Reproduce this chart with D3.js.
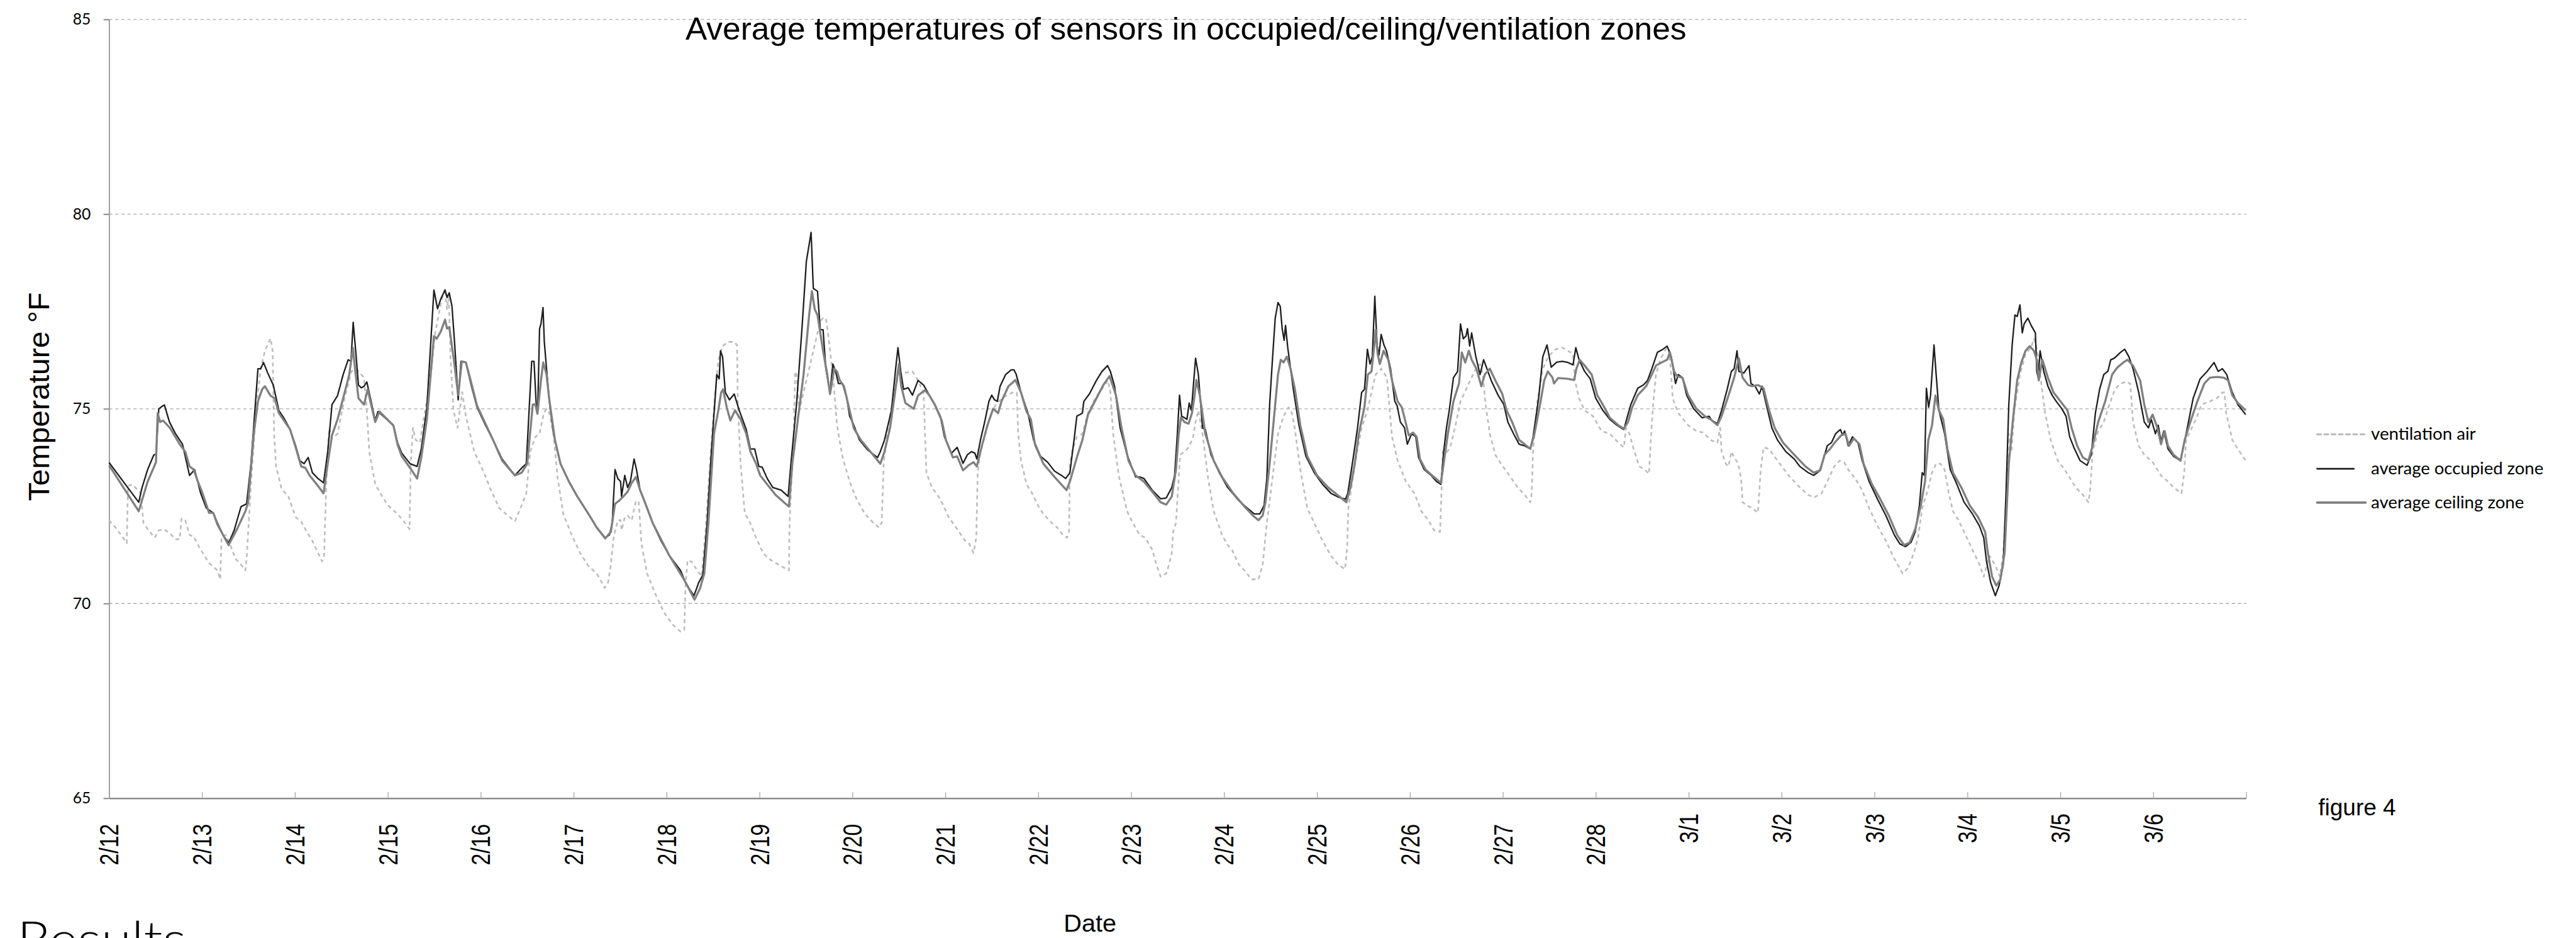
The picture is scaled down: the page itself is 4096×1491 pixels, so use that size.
<!DOCTYPE html>
<html><head><meta charset="utf-8">
<script src="https://cdnjs.cloudflare.com/ajax/libs/d3/7.8.5/d3.min.js"></script>
<style>html,body{margin:0;padding:0;background:#fff;overflow:hidden}</style>
</head><body>
<svg id="chart" width="4096" height="1491" viewBox="0 0 4644 1691"></svg>
<script>
// ---------------- data ----------------
const startDate = Date.UTC(2011, 1, 12);   // 2/12, day 0
const dayCount = 23;                        // axis runs to 3/7 0:00
const xTickLabels = ["2/12","2/13","2/14","2/15","2/16","2/17","2/18","2/19","2/20","2/21","2/22","2/23","2/24","2/25","2/26","2/27","2/28","3/1","3/2","3/3","3/4","3/5","3/6"];
const yTicks = [65, 70, 75, 80, 85];
const seriesNames = ["ventilation air", "average occupied zone", "average ceiling zone"];
const titleText = "Average temperatures of sensors in occupied/ceiling/ventilation zones";
const yTitle = "Temperature °F";
const xTitle = "Date";

// [day offset from 2/12 0:00, °F]
const occupiedZone = [[0.000,73.62],[0.319,72.60],[0.355,72.98],[0.415,73.44],[0.480,73.81],[0.505,73.84],[0.535,75.00],[0.580,75.08],[0.595,75.10],[0.650,74.66],[0.715,74.36],[0.790,74.09],[0.866,73.29],[0.920,73.44],[0.986,72.83],[1.046,72.45],[1.120,72.33],[1.166,72.07],[1.226,71.76],[1.286,71.55],[1.346,71.88],[1.420,72.49],[1.480,72.56],[1.527,73.59],[1.602,76.03],[1.632,76.03],[1.662,76.19],[1.707,75.92],[1.767,75.61],[1.827,74.96],[1.887,74.74],[1.948,74.47],[2.008,74.05],[2.053,73.67],[2.098,73.59],[2.143,73.75],[2.188,73.36],[2.248,73.21],[2.308,73.10],[2.353,73.90],[2.399,75.11],[2.459,75.34],[2.519,75.88],[2.573,76.26],[2.603,76.22],[2.627,77.22],[2.654,76.49],[2.684,75.61],[2.714,75.54],[2.744,75.58],[2.774,75.69],[2.820,75.19],[2.864,74.70],[2.894,74.93],[2.970,74.77],[3.060,74.58],[3.105,74.12],[3.150,73.86],[3.240,73.59],[3.315,73.52],[3.360,73.97],[3.420,75.04],[3.496,78.05],[3.535,77.57],[3.571,77.83],[3.616,78.05],[3.637,77.86],[3.661,77.98],[3.690,77.64],[3.720,76.64],[3.757,75.23],[3.787,76.22],[3.840,76.19],[3.900,75.58],[3.960,75.04],[4.050,74.58],[4.140,74.16],[4.230,73.71],[4.367,73.29],[4.440,73.48],[4.490,73.59],[4.548,76.22],[4.573,76.22],[4.597,75.11],[4.612,74.89],[4.633,77.06],[4.648,77.18],[4.670,77.60],[4.684,76.72],[4.708,76.03],[4.738,75.19],[4.783,74.36],[4.858,73.59],[4.949,73.13],[5.039,72.75],[5.159,72.30],[5.249,71.95],[5.340,71.69],[5.385,71.76],[5.415,72.07],[5.445,73.44],[5.475,73.21],[5.505,73.13],[5.515,72.75],[5.550,73.29],[5.580,72.98],[5.610,73.13],[5.650,73.71],[5.676,73.44],[5.715,72.91],[5.760,72.64],[5.850,72.07],[5.940,71.61],[6.030,71.23],[6.150,70.85],[6.196,70.58],[6.241,70.39],[6.295,70.20],[6.346,70.54],[6.390,70.73],[6.436,72.07],[6.480,73.82],[6.540,75.88],[6.566,75.77],[6.580,76.49],[6.602,76.34],[6.632,75.42],[6.677,75.23],[6.728,75.38],[6.782,74.96],[6.857,74.47],[6.902,73.97],[6.948,73.97],[6.993,73.52],[7.029,73.50],[7.083,73.21],[7.143,72.98],[7.233,72.91],[7.308,72.75],[7.338,73.59],[7.398,75.11],[7.458,77.10],[7.504,78.78],[7.555,79.53],[7.579,78.09],[7.624,78.02],[7.654,77.03],[7.684,77.03],[7.714,76.03],[7.759,75.42],[7.789,76.15],[7.819,75.96],[7.849,75.65],[7.894,75.65],[7.940,75.27],[7.970,74.81],[8.015,74.58],[8.075,74.20],[8.165,73.94],[8.270,73.75],[8.300,73.90],[8.345,74.20],[8.420,74.96],[8.465,76.03],[8.490,76.57],[8.520,75.96],[8.550,75.50],[8.600,75.54],[8.646,75.35],[8.706,75.73],[8.766,75.61],[8.811,75.42],[8.886,75.11],[8.946,74.81],[8.990,74.28],[9.066,73.86],[9.127,74.01],[9.190,73.60],[9.237,73.82],[9.280,73.90],[9.318,73.86],[9.339,73.71],[9.378,74.20],[9.423,74.66],[9.469,75.19],[9.499,75.35],[9.529,75.23],[9.559,75.19],[9.589,75.58],[9.649,75.88],[9.709,76.00],[9.739,76.00],[9.763,75.88],[9.814,75.42],[9.889,74.89],[9.949,74.20],[10.025,73.78],[10.100,73.63],[10.175,73.40],[10.250,73.29],[10.295,73.21],[10.340,73.36],[10.385,74.20],[10.415,74.81],[10.475,74.89],[10.490,75.19],[10.550,75.38],[10.626,75.73],[10.686,75.96],[10.746,76.11],[10.776,75.96],[10.821,75.58],[10.881,74.51],[10.956,73.82],[11.047,73.25],[11.092,73.25],[11.137,73.21],[11.227,72.91],[11.317,72.69],[11.377,72.71],[11.437,72.98],[11.467,73.29],[11.497,74.36],[11.520,75.35],[11.543,74.81],[11.573,74.77],[11.600,74.73],[11.624,75.15],[11.648,74.96],[11.693,76.30],[11.723,75.88],[11.768,74.51],[11.798,74.47],[11.858,73.82],[11.948,73.36],[12.038,72.98],[12.159,72.64],[12.249,72.45],[12.324,72.30],[12.384,72.30],[12.430,72.52],[12.460,73.21],[12.490,75.11],[12.520,76.26],[12.550,77.33],[12.580,77.73],[12.604,77.63],[12.625,77.06],[12.646,76.76],[12.661,77.14],[12.685,76.57],[12.745,75.50],[12.805,74.58],[12.880,73.78],[12.970,73.36],[13.060,73.06],[13.150,72.83],[13.240,72.72],[13.307,72.68],[13.331,72.83],[13.390,73.75],[13.436,74.51],[13.480,75.42],[13.511,75.50],[13.542,76.53],[13.570,76.15],[13.595,76.34],[13.622,77.89],[13.646,76.64],[13.667,76.38],[13.690,76.91],[13.720,76.64],[13.747,76.49],[13.792,76.03],[13.837,75.19],[13.862,75.08],[13.897,74.66],[13.942,74.51],[13.972,74.09],[14.018,74.36],[14.063,74.28],[14.093,73.75],[14.153,73.44],[14.228,73.29],[14.288,73.13],[14.333,73.06],[14.363,73.90],[14.393,74.51],[14.423,74.96],[14.468,75.80],[14.513,75.96],[14.544,77.18],[14.574,76.80],[14.604,76.87],[14.619,77.06],[14.643,76.61],[14.664,76.95],[14.709,76.34],[14.754,75.88],[14.793,76.26],[14.829,76.03],[14.874,75.73],[14.949,75.35],[15.010,75.11],[15.054,74.66],[15.115,74.36],[15.175,74.09],[15.235,74.05],[15.295,73.97],[15.325,74.28],[15.385,75.27],[15.430,76.34],[15.475,76.64],[15.520,76.07],[15.580,76.20],[15.640,76.22],[15.700,76.19],[15.755,76.13],[15.785,76.57],[15.820,76.26],[15.880,75.96],[15.940,75.77],[16.000,75.27],[16.076,74.96],[16.151,74.73],[16.227,74.58],[16.272,74.51],[16.302,74.47],[16.332,74.73],[16.377,75.11],[16.452,75.53],[16.512,75.61],[16.557,75.73],[16.603,76.03],[16.663,76.45],[16.723,76.53],[16.768,76.61],[16.813,76.34],[16.858,75.65],[16.888,75.88],[16.933,75.80],[16.978,75.35],[17.053,75.00],[17.144,74.77],[17.219,74.81],[17.249,74.70],[17.309,74.62],[17.354,74.96],[17.414,75.50],[17.459,75.96],[17.489,76.03],[17.520,76.49],[17.540,75.96],[17.594,75.92],[17.649,76.11],[17.670,75.65],[17.715,75.58],[17.760,75.38],[17.790,75.58],[17.835,75.11],[17.895,74.51],[17.955,74.20],[18.045,73.90],[18.136,73.71],[18.196,73.52],[18.286,73.36],[18.346,73.29],[18.406,73.40],[18.446,73.67],[18.491,74.05],[18.536,74.13],[18.581,74.36],[18.633,74.47],[18.657,74.32],[18.678,74.43],[18.717,74.05],[18.762,74.28],[18.822,74.13],[18.867,73.67],[18.942,73.13],[19.032,72.68],[19.122,72.26],[19.213,71.76],[19.273,71.53],[19.333,71.46],[19.393,71.57],[19.438,71.84],[19.483,72.52],[19.513,73.36],[19.537,73.29],[19.558,75.53],[19.582,75.04],[19.603,75.35],[19.640,76.64],[19.663,75.88],[19.693,74.96],[19.754,74.36],[19.814,73.44],[19.874,73.13],[19.964,72.60],[20.054,72.30],[20.129,71.99],[20.175,71.69],[20.205,71.08],[20.250,70.54],[20.300,70.20],[20.340,70.46],[20.385,71.00],[20.415,72.83],[20.445,75.11],[20.481,76.64],[20.511,77.41],[20.535,77.37],[20.565,77.67],[20.590,76.95],[20.610,77.18],[20.650,77.33],[20.686,77.14],[20.731,76.95],[20.746,75.96],[20.761,75.80],[20.782,76.49],[20.821,75.96],[20.866,75.58],[20.911,75.35],[20.956,75.19],[21.016,75.00],[21.061,74.81],[21.100,74.28],[21.152,73.97],[21.212,73.67],[21.287,73.55],[21.332,73.82],[21.377,74.89],[21.422,75.50],[21.467,75.88],[21.512,75.97],[21.542,76.26],[21.580,76.30],[21.647,76.45],[21.692,76.53],[21.737,76.34],[21.782,76.03],[21.843,75.42],[21.903,74.66],[21.948,74.51],[21.978,74.73],[22.023,74.36],[22.053,74.58],[22.083,74.16],[22.113,74.43],[22.158,73.97],[22.218,73.78],[22.293,73.67],[22.353,74.36],[22.429,75.27],[22.504,75.77],[22.579,75.96],[22.654,76.19],[22.699,75.96],[22.744,76.03],[22.790,75.88],[22.850,75.42],[22.910,75.11],[22.994,74.85]];

const ceilingZone = [[0.000,73.55],[0.319,72.37],[0.415,73.13],[0.505,73.63],[0.523,74.89],[0.550,74.66],[0.580,74.70],[0.655,74.51],[0.760,74.09],[0.820,73.90],[0.866,73.52],[0.910,73.44],[0.956,73.13],[1.000,72.87],[1.076,72.33],[1.121,72.33],[1.166,72.03],[1.286,71.50],[1.377,71.91],[1.467,72.37],[1.497,72.60],[1.557,74.36],[1.602,75.19],[1.647,75.50],[1.677,75.58],[1.737,75.34],[1.782,75.27],[1.827,74.89],[1.948,74.47],[2.008,74.01],[2.068,73.52],[2.113,73.48],[2.158,73.29],[2.248,73.02],[2.308,72.83],[2.353,73.59],[2.399,74.32],[2.459,74.73],[2.519,75.27],[2.585,75.88],[2.624,76.57],[2.654,75.88],[2.684,75.27],[2.744,75.11],[2.783,75.50],[2.820,75.11],[2.864,74.66],[2.910,74.93],[3.060,74.57],[3.105,74.08],[3.150,73.78],[3.240,73.48],[3.315,73.21],[3.360,73.75],[3.420,74.73],[3.496,76.87],[3.526,76.80],[3.571,76.99],[3.616,77.29],[3.637,77.06],[3.661,77.10],[3.706,76.34],[3.757,75.35],[3.796,76.22],[3.840,76.19],[3.900,75.65],[3.960,75.08],[4.050,74.62],[4.140,74.16],[4.230,73.67],[4.367,73.29],[4.440,73.36],[4.500,73.59],[4.560,75.11],[4.588,75.11],[4.610,74.87],[4.648,75.73],[4.672,76.19],[4.708,75.88],[4.738,75.23],[4.798,74.20],[4.858,73.59],[4.949,73.13],[5.039,72.75],[5.159,72.30],[5.249,71.95],[5.340,71.67],[5.400,71.84],[5.445,72.56],[5.490,72.64],[5.535,72.75],[5.580,72.87],[5.625,73.10],[5.670,73.25],[5.715,72.91],[5.760,72.64],[5.850,72.07],[6.030,71.23],[6.196,70.58],[6.301,70.10],[6.360,70.39],[6.406,70.77],[6.450,72.07],[6.510,74.36],[6.557,74.96],[6.587,75.42],[6.608,75.50],[6.647,75.04],[6.686,74.70],[6.737,74.96],[6.797,74.73],[6.857,74.36],[6.902,73.90],[6.963,73.59],[7.007,73.29],[7.083,73.06],[7.173,72.79],[7.263,72.60],[7.317,72.49],[7.353,73.59],[7.413,74.73],[7.474,75.88],[7.534,77.41],[7.564,78.02],[7.594,77.56],[7.624,77.41],[7.654,76.95],[7.684,76.49],[7.729,75.88],[7.759,75.38],[7.804,76.03],[7.834,75.96],[7.864,75.73],[7.909,75.58],[7.955,75.11],[8.015,74.50],[8.090,74.20],[8.180,73.94],[8.300,73.59],[8.345,73.90],[8.405,74.51],[8.450,75.27],[8.500,76.15],[8.525,75.58],[8.570,75.15],[8.660,75.00],[8.706,75.34],[8.781,75.48],[8.826,75.35],[8.886,75.11],[8.961,74.70],[9.006,74.20],[9.081,73.75],[9.127,73.78],[9.190,73.42],[9.250,73.55],[9.303,73.63],[9.339,73.52],[9.393,74.05],[9.453,74.58],[9.514,75.00],[9.568,74.89],[9.604,75.19],[9.679,75.58],[9.754,75.74],[9.814,75.42],[9.874,74.93],[9.920,74.73],[9.965,74.08],[10.055,73.59],[10.175,73.25],[10.304,72.91],[10.340,73.13],[10.415,73.75],[10.475,74.20],[10.535,74.85],[10.626,75.27],[10.700,75.61],[10.767,75.84],[10.836,75.35],[10.896,74.51],[10.971,73.67],[11.047,73.29],[11.137,73.13],[11.227,72.87],[11.317,72.60],[11.377,72.54],[11.437,72.75],[11.482,73.44],[11.512,74.36],[11.536,74.78],[11.573,74.66],[11.618,74.62],[11.654,74.89],[11.678,75.27],[11.702,75.74],[11.738,75.35],[11.798,74.36],[11.888,73.67],[11.978,73.25],[12.098,72.83],[12.219,72.49],[12.309,72.26],[12.370,72.14],[12.415,72.26],[12.445,72.60],[12.490,73.59],[12.535,74.73],[12.580,75.88],[12.610,76.26],[12.640,76.19],[12.675,76.34],[12.715,76.03],[12.760,75.53],[12.820,74.58],[12.895,73.78],[13.000,73.29],[13.120,72.98],[13.240,72.75],[13.316,72.60],[13.360,72.98],[13.406,73.59],[13.450,74.36],[13.510,75.04],[13.547,75.88],[13.586,75.96],[13.617,76.64],[13.631,77.03],[13.652,76.41],[13.676,76.15],[13.716,76.49],[13.767,76.26],[13.807,75.73],[13.867,75.19],[13.912,75.04],[13.942,74.77],[13.987,74.32],[14.033,74.39],[14.072,74.28],[14.108,73.71],[14.168,73.44],[14.258,73.25],[14.333,73.10],[14.363,73.59],[14.408,74.36],[14.468,75.19],[14.528,75.65],[14.558,76.45],[14.595,76.19],[14.634,76.49],[14.664,76.26],[14.715,76.03],[14.769,75.58],[14.805,75.88],[14.859,76.03],[14.919,75.73],[14.994,75.38],[15.040,74.96],[15.100,74.66],[15.175,74.20],[15.235,74.09],[15.295,73.97],[15.340,74.36],[15.400,75.11],[15.445,75.73],[15.484,75.96],[15.535,75.80],[15.550,75.65],[15.595,75.79],[15.700,75.77],[15.767,75.74],[15.791,76.03],[15.827,76.26],[15.880,76.11],[15.956,75.88],[16.016,75.35],[16.092,75.04],[16.151,74.77],[16.242,74.58],[16.302,74.49],[16.347,74.66],[16.392,75.04],[16.452,75.35],[16.542,75.58],[16.603,75.88],[16.648,76.11],[16.707,76.19],[16.768,76.26],[16.798,76.45],[16.843,75.96],[16.873,75.84],[16.933,75.80],[16.993,75.35],[17.083,75.00],[17.174,74.81],[17.234,74.73],[17.309,74.58],[17.354,74.81],[17.429,75.35],[17.489,75.80],[17.540,76.30],[17.580,75.80],[17.640,75.61],[17.684,75.58],[17.745,75.61],[17.805,75.53],[17.865,74.96],[17.925,74.51],[18.015,74.13],[18.136,73.82],[18.256,73.52],[18.346,73.36],[18.416,73.42],[18.461,73.82],[18.521,73.97],[18.581,74.16],[18.642,74.32],[18.687,74.36],[18.726,74.05],[18.777,74.24],[18.837,74.09],[18.882,73.59],[18.972,73.06],[19.062,72.68],[19.153,72.26],[19.243,71.76],[19.318,71.50],[19.378,71.57],[19.438,71.91],[19.498,72.52],[19.543,73.13],[19.579,74.20],[19.619,74.58],[19.655,75.34],[19.693,74.96],[19.739,74.73],[19.784,73.97],[19.844,73.36],[19.934,72.98],[20.024,72.52],[20.114,72.22],[20.190,71.84],[20.220,71.30],[20.265,70.69],[20.310,70.46],[20.355,70.62],[20.400,71.30],[20.445,73.59],[20.490,74.73],[20.535,75.73],[20.580,76.19],[20.625,76.49],[20.670,76.61],[20.715,76.49],[20.746,76.26],[20.767,75.73],[20.806,76.26],[20.866,75.80],[20.926,75.42],[21.001,75.19],[21.076,74.96],[21.121,74.51],[21.181,74.05],[21.242,73.75],[21.302,73.67],[21.347,74.05],[21.407,74.66],[21.482,75.19],[21.557,75.88],[21.617,76.07],[21.677,76.19],[21.722,76.26],[21.782,76.11],[21.858,75.73],[21.903,75.11],[21.948,74.66],[21.993,74.85],[22.044,74.51],[22.083,74.09],[22.122,74.43],[22.158,74.05],[22.218,73.82],[22.293,73.67],[22.338,74.20],[22.398,74.66],[22.474,75.19],[22.549,75.65],[22.609,75.80],[22.684,75.82],[22.760,75.80],[22.805,75.73],[22.850,75.35],[22.910,75.15],[22.994,74.96]];

const ventilationAir = [[0.000,72.14],[0.084,71.91],[0.190,71.55],[0.204,73.02],[0.250,73.06],[0.310,72.91],[0.340,72.83],[0.370,72.07],[0.415,71.91],[0.490,71.69],[0.535,71.88],[0.595,71.90],[0.655,71.80],[0.715,71.65],[0.760,71.65],[0.780,72.18],[0.820,72.14],[0.866,71.76],[0.910,71.72],[0.986,71.38],[1.076,71.04],[1.166,70.85],[1.196,70.62],[1.211,71.72],[1.256,71.76],[1.300,71.53],[1.360,71.15],[1.420,71.00],[1.467,70.85],[1.482,71.23],[1.527,73.06],[1.587,75.11],[1.632,76.03],[1.677,76.49],[1.737,76.81],[1.760,76.49],[1.776,74.36],[1.797,73.52],[1.857,72.94],[1.930,72.75],[2.008,72.22],[2.068,72.10],[2.128,71.84],[2.188,71.61],[2.248,71.30],[2.293,71.08],[2.314,71.23],[2.338,73.13],[2.368,74.51],[2.399,74.24],[2.459,74.36],[2.534,75.27],[2.609,75.96],[2.654,76.03],[2.699,75.92],[2.744,75.80],[2.774,74.96],[2.800,73.90],[2.864,73.06],[2.940,72.75],[3.000,72.52],[3.090,72.33],[3.150,72.18],[3.234,71.91],[3.246,73.59],[3.270,74.51],[3.300,74.20],[3.345,74.13],[3.390,74.81],[3.450,75.58],[3.510,76.95],[3.571,77.71],[3.616,78.09],[3.637,77.56],[3.655,77.94],[3.676,76.26],[3.706,74.96],[3.750,74.51],[3.800,75.43],[3.840,74.81],[3.930,73.90],[4.020,73.44],[4.110,72.91],[4.200,72.45],[4.290,72.26],[4.367,72.11],[4.440,72.52],[4.490,72.83],[4.532,73.90],[4.588,74.28],[4.633,74.36],[4.678,74.89],[4.708,75.00],[4.738,74.89],[4.783,74.36],[4.828,73.21],[4.888,72.30],[4.979,71.76],[5.069,71.30],[5.159,70.96],[5.249,70.77],[5.334,70.40],[5.370,70.54],[5.400,71.00],[5.430,71.69],[5.475,72.14],[5.505,72.14],[5.515,71.88],[5.550,72.22],[5.580,72.26],[5.625,72.14],[5.670,72.64],[5.700,72.60],[5.730,71.53],[5.790,70.77],[5.880,70.24],[5.970,69.78],[6.060,69.47],[6.150,69.28],[6.190,69.32],[6.205,70.54],[6.226,71.11],[6.271,71.07],[6.330,70.85],[6.376,70.69],[6.420,71.91],[6.466,73.59],[6.512,75.11],[6.557,76.26],[6.602,76.61],[6.662,76.72],[6.722,76.72],[6.758,76.64],[6.767,75.11],[6.797,73.59],[6.842,72.30],[6.887,72.14],[6.963,71.69],[7.038,71.30],[7.098,71.15],[7.173,71.04],[7.263,70.92],[7.317,70.85],[7.323,72.07],[7.368,74.36],[7.383,75.96],[7.398,75.88],[7.428,74.96],[7.474,75.42],[7.534,76.03],[7.594,76.64],[7.654,77.25],[7.684,77.33],[7.714,77.33],[7.729,77.10],[7.789,75.88],[7.834,74.58],[7.894,73.75],[7.970,73.13],[8.045,72.68],[8.135,72.30],[8.225,72.07],[8.285,71.95],[8.315,72.07],[8.336,73.59],[8.375,74.43],[8.435,75.19],[8.495,75.88],[8.556,75.92],[8.646,75.96],[8.706,75.73],[8.766,75.42],[8.781,74.36],[8.796,73.36],[8.856,72.98],[8.946,72.68],[9.036,72.22],[9.127,71.91],[9.213,71.61],[9.258,71.53],[9.303,71.30],[9.333,71.69],[9.348,73.36],[9.378,73.90],[9.423,74.28],[9.483,74.81],[9.544,75.11],[9.604,75.27],[9.664,75.35],[9.724,75.42],[9.769,75.42],[9.784,74.36],[9.814,73.67],[9.874,73.06],[9.934,72.83],[9.995,72.52],[10.055,72.30],[10.145,72.07],[10.205,71.95],[10.265,71.76],[10.310,71.69],[10.331,71.84],[10.340,73.59],[10.370,73.97],[10.415,74.28],[10.475,74.36],[10.535,74.89],[10.596,75.19],[10.656,75.42],[10.716,75.61],[10.752,75.73],[10.776,75.42],[10.806,74.36],[10.866,73.29],[10.956,72.37],[11.016,72.07],[11.092,71.76],[11.152,71.69],[11.227,71.38],[11.272,71.00],[11.317,70.69],[11.377,70.77],[11.407,71.00],[11.437,71.30],[11.452,71.84],[11.482,72.07],[11.527,73.82],[11.573,73.90],[11.618,74.01],[11.663,74.24],[11.693,74.66],[11.723,74.96],[11.768,74.36],[11.828,73.21],[11.888,72.37],[11.978,71.76],[12.038,71.50],[12.084,71.38],[12.159,71.00],[12.234,70.81],[12.294,70.62],[12.370,70.62],[12.415,71.00],[12.460,72.07],[12.520,73.21],[12.580,74.36],[12.640,74.81],[12.694,75.04],[12.730,74.89],[12.760,74.51],[12.820,73.44],[12.895,72.45],[12.985,71.99],[13.060,71.61],[13.150,71.23],[13.226,71.00],[13.301,70.88],[13.325,71.46],[13.337,72.45],[13.361,72.83],[13.420,73.75],[13.480,74.51],[13.542,74.96],[13.586,75.42],[13.631,75.88],[13.692,76.03],[13.752,75.80],[13.777,75.11],[13.807,74.28],[13.867,73.67],[13.957,73.13],[14.048,72.83],[14.123,72.37],[14.198,72.14],[14.258,71.88],[14.324,71.84],[14.339,72.83],[14.354,73.90],[14.393,73.86],[14.438,74.05],[14.498,74.66],[14.544,75.19],[14.589,75.42],[14.649,75.73],[14.709,76.03],[14.754,76.15],[14.784,75.88],[14.814,75.11],[14.859,74.36],[14.919,73.82],[14.979,73.59],[15.070,73.29],[15.160,72.98],[15.235,72.79],[15.295,72.60],[15.310,72.83],[15.325,73.90],[15.370,75.19],[15.430,76.03],[15.490,76.34],[15.565,76.53],[15.640,76.57],[15.700,76.49],[15.755,76.41],[15.776,75.73],[15.820,75.27],[15.880,74.96],[15.970,74.81],[16.061,74.43],[16.151,74.36],[16.242,74.13],[16.302,74.01],[16.326,74.51],[16.362,74.36],[16.407,73.97],[16.467,73.52],[16.527,73.44],[16.572,73.33],[16.596,74.36],[16.617,75.11],[16.648,75.88],[16.693,76.26],[16.753,76.53],[16.783,76.57],[16.807,76.03],[16.828,75.27],[16.888,74.89],[16.993,74.58],[17.083,74.43],[17.158,74.39],[17.234,74.20],[17.309,74.13],[17.339,74.51],[17.354,73.90],[17.399,73.59],[17.429,73.52],[17.459,73.90],[17.489,73.75],[17.534,73.59],[17.564,73.21],[17.580,72.60],[17.624,72.52],[17.684,72.45],[17.745,72.33],[17.775,73.44],[17.805,74.01],[17.865,73.97],[17.955,73.67],[18.075,73.29],[18.196,72.98],[18.286,72.79],[18.346,72.72],[18.431,72.83],[18.491,73.13],[18.566,73.52],[18.627,73.67],[18.672,73.63],[18.717,73.44],[18.792,73.21],[18.867,72.91],[18.942,72.45],[19.032,71.99],[19.122,71.61],[19.213,71.15],[19.303,70.77],[19.363,70.92],[19.423,71.30],[19.468,71.69],[19.513,72.45],[19.573,72.91],[19.618,73.36],[19.663,73.59],[19.709,73.59],[19.754,73.44],[19.799,72.83],[19.844,72.37],[19.904,72.14],[19.979,71.76],[20.054,71.38],[20.129,71.00],[20.175,70.69],[20.235,71.23],[20.295,71.00],[20.349,70.69],[20.385,71.30],[20.415,72.45],[20.445,74.36],[20.475,73.90],[20.505,74.96],[20.565,75.88],[20.625,76.41],[20.685,76.57],[20.715,76.80],[20.737,76.64],[20.760,76.34],[20.790,75.73],[20.836,74.89],[20.896,74.20],[20.971,73.67],[21.046,73.44],[21.106,73.21],[21.166,72.98],[21.242,72.79],[21.302,72.60],[21.323,72.98],[21.347,73.90],[21.407,74.43],[21.467,74.66],[21.527,75.11],[21.587,75.50],[21.647,75.65],[21.708,75.69],[21.752,75.65],[21.782,74.66],[21.843,74.05],[21.903,73.82],[21.993,73.63],[22.083,73.29],[22.158,73.13],[22.218,72.98],[22.303,72.83],[22.333,73.36],[22.353,74.20],[22.398,74.43],[22.459,74.73],[22.519,75.11],[22.609,75.19],[22.684,75.27],[22.744,75.42],[22.765,75.42],[22.785,74.89],[22.850,74.20],[22.910,73.97],[22.994,73.67]];

// ---------------- drawing ----------------
const svg = d3.select("#chart");
svg.append("rect").attr("width", 4644).attr("height", 1691).attr("fill", "#fff");

const toDate = d => new Date(startDate + d * 864e5);
const x = d3.scaleUtc().domain([toDate(0), toDate(dayCount)]).range([196, 4050]);
const y = d3.scaleLinear().domain([65, 85]).range([1439, 35]);

const ARIAL = "'Liberation Sans', Arial, Helvetica, sans-serif";
const CALIBRI = "Lato, 'Open Sans', 'Noto Sans', sans-serif";

// gridlines
svg.append("g").selectAll("line").data(yTicks.filter(v => v > 65)).join("line")
  .attr("x1", x.range()[0]).attr("x2", x.range()[1])
  .attr("y1", d => y(d)).attr("y2", d => y(d))
  .attr("stroke", "#ababab").attr("stroke-width", 1.6).attr("stroke-dasharray", "6,5");

// y axis
const yAxis = svg.append("g").attr("transform", `translate(${x.range()[0]},0)`)
  .call(d3.axisLeft(y).tickValues(yTicks).tickSizeInner(10).tickSizeOuter(0).tickPadding(23).tickFormat(d3.format("d")));
yAxis.select(".domain").attr("stroke", "#9a9a9a").attr("stroke-width", 2.2);
yAxis.selectAll(".tick line").attr("stroke", "#8f8f8f").attr("stroke-width", 2.4);
yAxis.selectAll(".tick text").attr("font-family", CALIBRI).attr("font-size", 28).attr("fill", "#000");

// x axis
const dayTicks = d3.range(0, dayCount + 1).map(toDate);
const xAxis = svg.append("g").attr("transform", `translate(0,${y(65)})`)
  .call(d3.axisBottom(x).tickValues(dayTicks).tickSizeInner(-11).tickSizeOuter(0).tickFormat(""));
xAxis.select(".domain").attr("stroke", "#8c8c8c").attr("stroke-width", 2.6);
xAxis.selectAll(".tick line").attr("stroke", "#a3a3a3").attr("stroke-width", 1.4);

// x tick labels (rotated, condensed)
xTickLabels.forEach((lab, i) => {
  const t = svg.append("text").text(lab)
    .attr("font-family", ARIAL).attr("font-size", 48).attr("fill", "#000")
    .attr("text-anchor", "start")
    .attr("transform", `translate(${x(toDate(i)) + 17},${lab.startsWith("2/") ? 1560 : 1520}) rotate(-90)`);
  const w = t.node().getComputedTextLength();
  t.attr("textLength", w * 0.8).attr("lengthAdjust", "spacingAndGlyphs");
});

// series lines
const line = d3.line().x(d => x(toDate(d[0]))).y(d => y(d[1]));
const styles = [
  {data: ventilationAir, stroke: "#bdbdbd", width: 3, dash: "7,6"},
  {data: occupiedZone, stroke: "#1e1e1e", width: 2.6, dash: null},
  {data: ceilingZone, stroke: "#808080", width: 3.8, dash: null}
];
styles.forEach(s => {
  svg.append("path").datum(s.data).attr("d", line)
    .attr("fill", "none").attr("stroke", s.stroke).attr("stroke-width", s.width)
    .attr("stroke-linejoin", "round").attr("stroke-linecap", "butt")
    .attr("stroke-dasharray", s.dash);
});

// title & axis titles
svg.append("text").text(titleText).attr("x", 2138).attr("y", 72)
  .attr("text-anchor", "middle").attr("font-family", ARIAL).attr("font-size", 57).attr("fill", "#000")
  .attr("textLength", 1805).attr("lengthAdjust", "spacingAndGlyphs");
svg.append("text").text(yTitle).attr("transform", "translate(88,715) rotate(-90)")
  .attr("text-anchor", "middle").attr("font-family", ARIAL).attr("font-size", 52).attr("fill", "#000")
  .attr("textLength", 376).attr("lengthAdjust", "spacingAndGlyphs");
svg.append("text").text(xTitle).attr("x", 1965).attr("y", 1680)
  .attr("text-anchor", "middle").attr("font-family", ARIAL).attr("font-size", 45).attr("fill", "#000");
svg.append("text").text("figure 4").attr("x", 4180).attr("y", 1470)
  .attr("font-family", ARIAL).attr("font-size", 42).attr("fill", "#000");
svg.append("text").text("Results").attr("x", 30).attr("y", 1725)
  .attr("font-family", CALIBRI).attr("font-weight", 300).attr("font-size", 90).attr("fill", "#000")
  .attr("textLength", 305).attr("lengthAdjust", "spacingAndGlyphs");

// legend
const legendRows = [
  {name: seriesNames[0], y: 783, x2: 4265, st: styles[0], tl: 189},
  {name: seriesNames[1], y: 845, x2: 4244, st: styles[1], tl: 311},
  {name: seriesNames[2], y: 906, x2: 4265, st: styles[2], tl: 276}
];
legendRows.forEach(r => {
  svg.append("line").attr("x1", 4178).attr("x2", r.x2).attr("y1", r.y).attr("y2", r.y)
    .attr("stroke", r.st.stroke).attr("stroke-width", r.st.width + 0.6).attr("stroke-dasharray", r.st.dash)
    .attr("stroke-linecap", "round");
  svg.append("text").text(r.name).attr("x", 4275).attr("y", r.y + 10)
    .attr("font-family", CALIBRI).attr("font-size", 31).attr("fill", "#000")
    .attr("textLength", r.tl).attr("lengthAdjust", "spacingAndGlyphs");
});
</script>
</body></html>
